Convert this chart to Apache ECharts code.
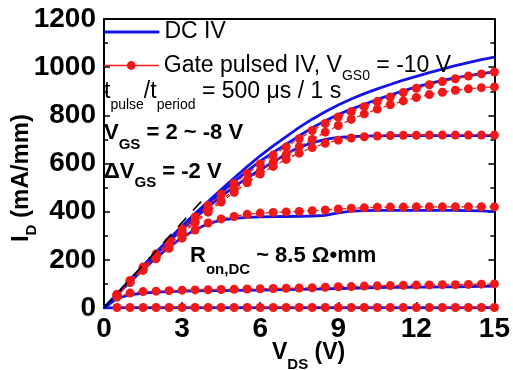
<!DOCTYPE html>
<html><head><meta charset="utf-8">
<script src="https://cdn.jsdelivr.net/npm/echarts@6/dist/echarts.min.js"></script>
<style>html,body{margin:0;padding:0;background:#fff}#c{width:513px;height:370px}</style>
</head><body><div id="c"></div>
<script>
// ---- data ----
const VDS_DC = [0,0.5,1,1.5,2,2.5,3,3.5,4,4.5,5,5.5,6,6.5,7,7.5,8,8.5,9,9.5,10,10.5,11,11.5,12,12.5,13,13.5,14,14.5,15];
const VDS_P  = [0.5,1,1.5,2,2.5,3,3.5,4,4.5,5,5.5,6,6.5,7,7.5,8,8.5,9,9.5,10,10.5,11,11.5,12,12.5,13,13.5,14,14.5,15];
const VGS_LEVELS = ['2','0','-2','-4','-6','-8'];
// DC IV (mA/mm), one array per VGS
const DC_VGS_2  = [0,58,117,175,232,287,340,392,442,492,540,587,632,673,712,750,784,815,843,868,890,910,928,946,962,977,992,1006,1019,1031,1042];
const DC_VGS_0  = [0,58,116,173,229,283,335,385,434,480,525,568,610,646,680,715,748,777,803,826,846,866,884,902,918,932,945,956,965,973,980];
const DC_VGS_m2 = [0,57,114,170,224,276,326,374,420,463,503,540,574,605,640,667,686,700,708,712,714,715,716,716,716,716,716,716,716,716,716];
const DC_VGS_m4 = [0,55,108,160,208,253,292,325,350,365,372,376,378,379,380,381,382,385,395,402,404,405,405,405,405,405,405,405,404,403,400];
const DC_VGS_m6 = [0,40,55,62,66,68,70,71,72,72,73,73,74,75,76,77,78,79,81,82,84,85,86,86,87,87,88,88,89,90,91];
const DC_VGS_m8 = [0,1,1,1,1,1,1,1,1,1,1,1,1,1,1,1,1,1,1,1,1,1,1,1,1,1,1,1,1,1,2];
// Gate pulsed IV (mA/mm), VGS0 = -10 V
const P_VGS_2  = [57,114,170,224,277,328,378,426,472,517,558,598,635,669,703,737,766,793,815,836,857,876,895,912,927,940,952,963,972,980];
const P_VGS_0  = [54,108,162,215,265,314,360,405,448,490,530,568,604,638,670,700,730,758,783,806,826,844,860,874,886,896,904,910,915,918];
const P_VGS_m2 = [54,108,161,213,262,309,354,398,440,480,520,556,588,617,643,666,684,697,706,711,714,716,717,717,718,718,718,718,718,718];
const P_VGS_m4 = [54,106,156,204,248,290,324,353,370,380,389,394,397,399,401,404,407,411,414,416,418,419,419,420,420,420,420,420,420,420];
const P_VGS_m6 = [45,62,68,70,72,74,75,76,77,78,79,80,81,82,83,84,86,88,89,91,92,93,94,95,96,97,97,98,99,100];
const P_VGS_m8 = [2,2,2,2,2,2,2,2,2,2,2,2,2,2,2,2,2,2,2,2,2,2,2,2,2,2,2,2,2,2];
// R_on,DC guide line (V, mA/mm)
const RON_V = [0, 3.9];
const RON_I = [0, 462];
const X_TICKS = [0,3,6,9,12,15];
const Y_TICKS = [0,200,400,600,800,1000,1200];

const DC_SETS = [DC_VGS_2, DC_VGS_0, DC_VGS_m2, DC_VGS_m4, DC_VGS_m6, DC_VGS_m8];
const P_SETS  = [P_VGS_2, P_VGS_0, P_VGS_m2, P_VGS_m4, P_VGS_m6, P_VGS_m8];

// ---- styling ----
const FONT = "'Liberation Sans', Arial, sans-serif";
const BLUE = '#1414e8';
const RED = '#f01818';
const zip = (xs, ys) => xs.map((x, i) => [x, ys[i]]);

const series = [];
DC_SETS.forEach((arr, k) => series.push({
  type: 'line', name: 'DC IV', id: 'dc' + VGS_LEVELS[k], data: zip(VDS_DC, arr),
  symbol: 'none', lineStyle: { color: BLUE, width: 2.8 }, itemStyle: { color: BLUE },
  z: 2, silent: true
}));
P_SETS.forEach((arr, k) => series.push({
  type: 'line', name: 'Gate pulsed IV', id: 'p' + VGS_LEVELS[k], data: zip(VDS_P, arr),
  symbol: 'circle', symbolSize: 9, showAllSymbol: true,
  lineStyle: { color: RED, width: 1.3, type: [4, 3] }, itemStyle: { color: RED },
  z: 3, silent: true
}));
series.push({
  type: 'line', name: 'Ron', data: zip(RON_V, RON_I), symbol: 'none',
  lineStyle: { color: '#000', width: 1.6, type: [12, 10] }, z: 4, silent: true
});

function subText(x, y, main1, sub, main2, opt) {
  const w = opt.bold ? 'bold' : 'normal';
  const L = opt.sub + 2 * opt.off;
  let t = '{m|' + main1 + '}{s|' + sub + '}';
  if (main2) t += '{m|' + main2 + '}';
  return {
    type: 'text', x: x, y: y, rotation: opt.rot || 0, z: 100,
    style: {
      text: t, align: opt.align || 'left', verticalAlign: 'middle', fill: '#000',
      rich: {
        m: { fontSize: opt.size, fontWeight: w, fontFamily: FONT, lineHeight: L, verticalAlign: 'middle', fill: '#000' },
        s: { fontSize: opt.sub, fontWeight: w, fontFamily: FONT, lineHeight: opt.sub, verticalAlign: 'bottom', fill: '#000' }
      }
    }
  };
}
function tpulse() {
  const L = 14 + 2 * 13;
  return {
    type: 'text', x: 104, y: 92, z: 100,
    style: {
      text: '{m|t}{s|pulse}{m|/t}{s|period}{m| = 500 \u03bcs / 1 s}',
      align: 'left', verticalAlign: 'middle', fill: '#000',
      rich: {
        m: { fontSize: 23, fontFamily: FONT, lineHeight: L, verticalAlign: 'middle', fill: '#000' },
        s: { fontSize: 14, fontFamily: FONT, lineHeight: 14, verticalAlign: 'bottom', fill: '#000' }
      }
    }
  };
}

const option = {
  animation: false,
  backgroundColor: '#fff',
  grid: { left: 104, right: 18, top: 19, bottom: 62, show: false },
  legend: [
    {
      data: ['DC IV'], left: 103, top: 20, orient: 'vertical', padding: 0,
      itemWidth: 55, itemHeight: 11, selectedMode: false,
      itemStyle: { color: 'rgba(0,0,0,0)', borderWidth: 0, opacity: 0 },
      lineStyle: { width: 2.8, type: 'solid' },
      textStyle: { fontSize: 23, fontFamily: FONT, color: '#000', lineHeight: 24 }
    },
    {
      data: ['Gate pulsed IV'], left: 103, top: 54, orient: 'vertical', padding: 0,
      itemWidth: 55, itemHeight: 11, selectedMode: false,
      lineStyle: { type: 'solid', width: 1.5 },
      formatter: () => '{m|Gate pulsed IV, V}{s|GS0}{m| = -10 V}',
      textStyle: {
        fontSize: 23, fontFamily: FONT, color: '#000',
        rich: {
          m: { fontSize: 23, fontFamily: FONT, color: '#000', lineHeight: 35, verticalAlign: 'middle' },
          s: { fontSize: 14, fontFamily: FONT, color: '#000', lineHeight: 14, verticalAlign: 'bottom' }
        }
      }
    }
  ],
  xAxis: [
    {
      type: 'value', min: 0, max: 15, interval: 3, position: 'bottom',
      axisLine: { show: true, onZero: false, lineStyle: { color: '#000', width: 2 } },
      axisTick: { show: true, inside: true, length: 6, lineStyle: { color: '#000', width: 1.5 } },
      axisLabel: { show: true, margin: 7, fontSize: 28, fontWeight: 'bold', fontFamily: FONT, color: '#000',
        formatter: v => X_TICKS.indexOf(v) >= 0 ? String(v) : '' },
      splitLine: { show: false }
    },
    {
      type: 'value', min: 0, max: 15, interval: 3, position: 'top',
      axisLine: { show: true, onZero: false, lineStyle: { color: '#000', width: 2 } },
      axisTick: { show: false }, axisLabel: { show: false }, splitLine: { show: false }
    }
  ],
  yAxis: [
    {
      type: 'value', min: 0, max: 1200, interval: 200, position: 'left',
      axisLine: { show: true, onZero: false, lineStyle: { color: '#000', width: 2 } },
      axisTick: { show: true, inside: true, length: 6, lineStyle: { color: '#000', width: 1.5 } },
      minorTick: { show: true, splitNumber: 2, length: 4, lineStyle: { color: '#000', width: 1.5 } },
      axisLabel: { show: true, margin: 8, fontSize: 28, fontWeight: 'bold', fontFamily: FONT, color: '#000',
        formatter: v => Y_TICKS.indexOf(v) >= 0 ? String(v) : '' },
      splitLine: { show: false }
    },
    {
      type: 'value', min: 0, max: 1200, interval: 200, position: 'right',
      axisLine: { show: true, onZero: false, lineStyle: { color: '#000', width: 2 } },
      axisTick: { show: true, inside: true, length: 6, lineStyle: { color: '#000', width: 1.5 } },
      minorTick: { show: true, splitNumber: 2, length: 4, lineStyle: { color: '#000', width: 1.5 } },
      axisLabel: { show: false }, splitLine: { show: false }
    }
  ],
  series: series,
  graphic: [
    tpulse(),
    subText(104, 133, 'V', 'GS', ' = 2 ~ -8 V', { bold: true, size: 22, sub: 15, off: 12 }),
    subText(104, 172, '\u0394V', 'GS', ' = -2 V', { bold: true, size: 22, sub: 15, off: 11 }),
    subText(190, 256, 'R', 'on,DC', ' ~ 8.5 \u03a9\u2022mm', { bold: true, size: 22, sub: 15, off: 14 }),
    subText(272, 353, 'V', 'DS', ' (V)', { bold: true, size: 23, sub: 15, off: 12 }),
    subText(21, 178, 'I', 'D', ' (mA/mm)', { bold: true, size: 24, sub: 15, off: 11, align: 'center', rot: Math.PI / 2 })
  ]
};
const chart = echarts.init(document.getElementById('c'), null, { renderer: 'canvas' });
chart.setOption(option);
</script></body></html>
